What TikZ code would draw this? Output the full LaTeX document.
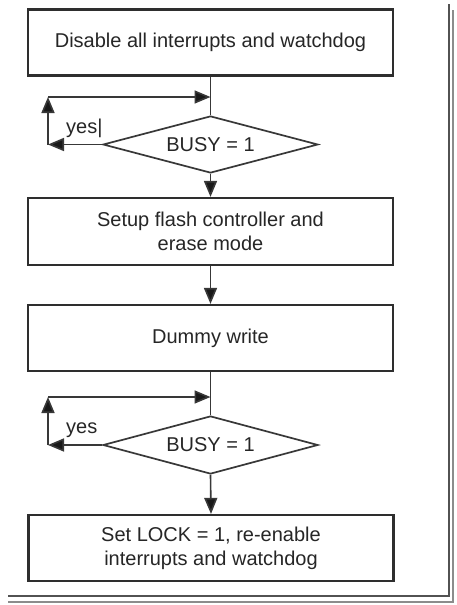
\documentclass[tikz,border=0pt]{standalone}
\usepackage{fontspec}
\setmainfont{Liberation Sans}
\usetikzlibrary{arrows.meta,shapes.geometric}
\begin{document}
\begin{tikzpicture}[x=1pt,y=-1pt,
  txt/.style={text=black!85, font=\fontsize{20}{24}\selectfont},
  box/.style={txt, draw=black!82, line width=2.2pt, minimum width=365pt, minimum height=66pt, inner sep=0pt, align=center},
  dec/.style={txt, draw=black!78, line width=1.7pt, diamond, aspect=3.77, minimum width=215pt, minimum height=57pt, inner sep=0pt},
  conn/.style={draw=black!78, line width=1.6pt},
  arr/.style={conn, -{Triangle[length=16pt,width=13pt,fill=black!90]}},
  frame/.style={line width=2.4pt}
]
\useasboundingbox (0,0) rectangle (456,605);
\fill[white] (0,0) rectangle (456,605);

% outer shadow frame
\draw[frame, black!68] (449,4) -- (449,596) -- (8,596);
\draw[frame, black!45] (453,10) -- (453,602) -- (8,602);

\node[box] (b1) at (210.5,42.5) {Disable all interrupts and watchdog};
\node[dec] (d1) at (210.5,144.5) {BUSY = 1};
\node[box, minimum height=67pt] (b2) at (210.5,231.5) {Setup flash controller and\\erase mode};
\node[box] (b3) at (210.5,338) {Dummy write};
\node[dec, minimum height=58pt] (d2) at (210.5,445) {BUSY = 1};
\node[box] (b4) at (211,548) {Set LOCK = 1, re-enable\\interrupts and watchdog};

\coordinate (j1) at (210.5,97);
\coordinate (c1a) at (48,97);
\coordinate (c1b) at (48,144.5);
\coordinate (j2) at (210.5,397);
\coordinate (c2a) at (48,397);
\coordinate (c2b) at (48,445);

\node[txt, anchor=base west, inner sep=0pt] (y1) at (66,133) {yes|};
\node[txt, anchor=base west, inner sep=0pt] (y2) at (66,433) {yes};

% first loop
\draw[conn] (b1.south) -- (d1.north);
\draw[arr] (d1.west) -- (c1b);
\draw[arr] (c1b) -- (c1a);
\draw[arr] (c1a) -- (j1);
\draw[arr] (d1.south) -- (b2.north);
\draw[arr] (b2.south) -- (b3.north);

% second loop
\draw[conn] (b3.south) -- (d2.north);
\draw[arr] (d2.west) -- (c2b);
\draw[arr] (c2b) -- (c2a);
\draw[arr] (c2a) -- (j2);
\draw[arr] (d2.south) -- (b4.north);
\end{tikzpicture}
\end{document}
